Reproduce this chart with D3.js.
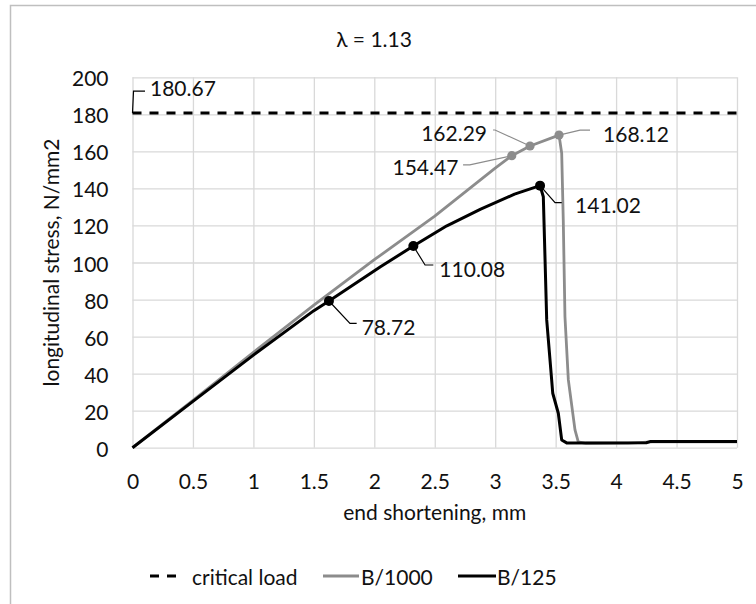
<!DOCTYPE html>
<html><head><meta charset="utf-8">
<script src="https://cdn.jsdelivr.net/npm/d3@7"></script>
<style>
body{margin:0;background:#fff}
text{font-family:Lato,"DejaVu Sans",sans-serif;fill:#111;font-size:21px}
</style>
</head><body>
<svg id="chart" width="756" height="604"></svg>
<script>
// ---- data ----
const chartTitle = "λ = 1.13";
const xTicks = [0, 0.5, 1, 1.5, 2, 2.5, 3, 3.5, 4, 4.5, 5];
const xTickLabels = ["0","0.5","1","1.5","2","2.5","3","3.5","4","4.5","5"];
const yTicks = [0, 20, 40, 60, 80, 100, 120, 140, 160, 180, 200];
const criticalLoad = 180.67;
const seriesNames = ["critical load", "B/1000", "B/125"];

const b1000X = [0, 0.5, 1, 1.5, 2, 2.5, 3, 3.137, 3.288, 3.528, 3.55, 3.563, 3.577, 3.605, 3.66, 3.687, 3.75, 4.1, 4.3, 5];
const b1000Y = [0, 25.5, 51.5, 77, 101.5, 125, 151, 157.7, 162.9, 168.8, 159, 123, 70.7, 36.6, 9.6, 3.2, 2.4, 2.5, 3.2, 3.2];

const b125X = [0, 0.5, 1, 1.5, 1.625, 2.051, 2.323, 2.6, 2.88, 3.16, 3.371, 3.398, 3.426, 3.467, 3.476, 3.522, 3.55, 3.591, 4.25, 4.28, 5];
const b125Y = [0, 25, 50, 74, 79.2, 97.7, 108.9, 119.8, 128.8, 136.9, 141.5, 135.5, 69, 36.6, 29.4, 18.6, 4.2, 2.6, 2.7, 3.3, 3.3];

const b1000MarkX = [3.137, 3.288, 3.528];
const b1000MarkY = [157.7, 162.9, 168.8];
const b1000MarkLabels = ["154.47", "162.29", "168.12"];

const b125MarkX = [1.625, 2.323, 3.371];
const b125MarkY = [79.2, 108.9, 141.5];
const b125MarkLabels = ["78.72", "110.08", "141.02"];

// ---- layout (pixels) ----
const plot = {left: 132.5, right: 737, top: 77.3, bottom: 447.7};
const grey = "#8c8c8c";
const svg = d3.select("#chart");

const x = d3.scaleLinear().domain([0, 5]).range([plot.left, plot.right]);
const y = d3.scaleLinear().domain([0, 200]).range([plot.bottom, plot.top]);

// frame
svg.append("rect").attr("x", 10.5).attr("y", 5.5).attr("width", 800).attr("height", 700)
  .attr("fill", "none").attr("stroke", "#bfbfbf").attr("stroke-width", 1.5);

// title
svg.append("text").attr("x", 374).attr("y", 38).attr("text-anchor", "middle")
  .attr("dominant-baseline", "central").text(chartTitle);

// gridlines
const gx = svg.append("g").attr("transform", `translate(0,${plot.bottom})`)
  .call(d3.axisBottom(x).tickValues(xTicks).tickSize(-(plot.bottom - plot.top)).tickFormat(""));
gx.select(".domain").remove();
gx.selectAll("line").attr("stroke", "#d9d9d9").attr("stroke-width", 1.3);

const gy = svg.append("g").attr("transform", `translate(${plot.left},0)`)
  .call(d3.axisLeft(y).tickValues(yTicks).tickSize(-(plot.right - plot.left)).tickFormat(""));
gy.select(".domain").remove();
gy.selectAll("line").attr("stroke", "#d9d9d9").attr("stroke-width", 1.3);

// tick labels
const xl = svg.append("g").attr("transform", `translate(0,${plot.bottom + 33})`)
  .call(d3.axisBottom(x).tickValues(xTicks).tickSize(0).tickPadding(0)
    .tickFormat((d, i) => xTickLabels[i]));
xl.select(".domain").remove();
xl.selectAll("text").attr("font-size", 21).attr("fill", "#111").attr("font-family", "Lato")
  .attr("dy", null).attr("dominant-baseline", "central");

const yl = svg.append("g").attr("transform", `translate(${plot.left - 24},0)`)
  .call(d3.axisLeft(y).tickValues(yTicks).tickSize(0).tickPadding(0));
yl.select(".domain").remove();
yl.selectAll("text").attr("font-size", 21).attr("fill", "#111").attr("font-family", "Lato")
  .attr("dy", null).attr("dominant-baseline", "central");

// axis titles
svg.append("text").attr("x", (plot.left + plot.right) / 2).attr("y", 511)
  .attr("text-anchor", "middle").attr("dominant-baseline", "central").text("end shortening, mm");
svg.append("text").attr("transform", `translate(50,${(plot.top + plot.bottom) / 2}) rotate(-90)`)
  .attr("text-anchor", "middle").attr("dominant-baseline", "central").text("longitudinal stress, N/mm2");

// critical load line
svg.append("line").attr("x1", x(0)).attr("x2", x(5)).attr("y1", y(criticalLoad)).attr("y2", y(criticalLoad))
  .attr("stroke", "#000").attr("stroke-width", 3).attr("stroke-dasharray", "9,8");

const line = d3.line().x(d => x(d[0])).y(d => y(d[1]));
const b1000 = b1000X.map((v, i) => [v, b1000Y[i]]);
const b125 = b125X.map((v, i) => [v, b125Y[i]]);

svg.append("path").datum(b1000).attr("d", line).attr("fill", "none")
  .attr("stroke", grey).attr("stroke-width", 2.8).attr("stroke-linejoin", "round");
svg.append("path").datum(b125).attr("d", line).attr("fill", "none")
  .attr("stroke", "#000").attr("stroke-width", 3).attr("stroke-linejoin", "round");

// markers
svg.selectAll(".mg").data(b1000MarkX).enter().append("circle")
  .attr("cx", d => x(d)).attr("cy", (d, i) => y(b1000MarkY[i])).attr("r", 4.6).attr("fill", grey);
svg.selectAll(".mb").data(b125MarkX).enter().append("circle")
  .attr("cx", d => x(d)).attr("cy", (d, i) => y(b125MarkY[i])).attr("r", 5).attr("fill", "#000");

// data labels with leader lines: [elbow dx,dy], [end dx,dy], [text dx,dy], anchor
const greyLayout = [
  {e: [-42, 9.3], f: [-48.7, 9.3], t: [-53.4, 11], a: "end"},
  {e: [-35, -16], f: [-37, -16], t: [-43, -13.5], a: "end"},
  {e: [21, -5], f: [31, -5], t: [44, -2], a: "start"}
];
const blackLayout = [
  {e: [21, 22.3], f: [27.7, 22.3], t: [32.7, 25.7], a: "start"},
  {e: [11.7, 19], f: [20, 19], t: [26, 22.3], a: "start"},
  {e: [15, 17], f: [21.7, 17], t: [35, 19.3], a: "start"}
];
function labels(xs, ys, texts, layout, color) {
  xs.forEach((v, i) => {
    const px = x(v), py = y(ys[i]), L = layout[i];
    svg.append("path").attr("d", `M${px},${py}L${px + L.e[0]},${py + L.e[1]}L${px + L.f[0]},${py + L.f[1]}`)
      .attr("fill", "none").attr("stroke", color).attr("stroke-width", 1.2);
    svg.append("text").attr("x", px + L.t[0]).attr("y", py + L.t[1]).attr("text-anchor", L.a)
      .attr("dominant-baseline", "central").text(texts[i]);
  });
}
labels(b1000MarkX, b1000MarkY, b1000MarkLabels, greyLayout, grey);
labels(b125MarkX, b125MarkY, b125MarkLabels, blackLayout, "#000");
labels([0], [criticalLoad], [String(criticalLoad)],
  [{e: [1, -22], f: [12.5, -22], t: [17.5, -26], a: "start"}], "#000");

// legend
const ly = 576;
svg.append("line").attr("x1", 150).attr("x2", 180).attr("y1", ly).attr("y2", ly)
  .attr("stroke", "#000").attr("stroke-width", 3).attr("stroke-dasharray", "9,8");
svg.append("text").attr("x", 192).attr("y", ly).attr("dominant-baseline", "central").text(seriesNames[0]);
svg.append("line").attr("x1", 323).attr("x2", 359).attr("y1", ly).attr("y2", ly)
  .attr("stroke", grey).attr("stroke-width", 3);
svg.append("text").attr("x", 361).attr("y", ly).attr("dominant-baseline", "central").text(seriesNames[1]);
svg.append("line").attr("x1", 458).attr("x2", 496).attr("y1", ly).attr("y2", ly)
  .attr("stroke", "#000").attr("stroke-width", 3);
svg.append("text").attr("x", 497).attr("y", ly).attr("dominant-baseline", "central").text(seriesNames[2]);
</script>
</body></html>
